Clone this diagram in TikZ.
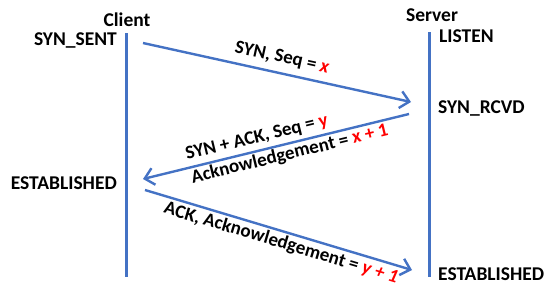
\documentclass[tikz,border=0pt]{standalone}
\usepackage{fontspec}
\setmainfont{Carlito}
\usetikzlibrary{arrows.meta}
\definecolor{lineblue}{HTML}{4472C4}
\definecolor{hlred}{HTML}{FF0000}
\tikzset{
  lifeline/.style={draw=lineblue, line width=2.6bp},
  msg/.style={draw=lineblue, line width=2.4bp, -{Straight Barb[length=9bp,width=17bp,line width=2.4bp]}},
  statelbl/.style={inner sep=0pt, font=\fontsize{19.5bp}{24bp}\selectfont\bfseries},
  msglbl/.style={inner sep=0pt, font=\fontsize{19bp}{24bp}\selectfont\bfseries},
}
\newcommand{\rd}[1]{\textcolor{hlred}{#1}}
\begin{document}
\begin{tikzpicture}[x=1bp,y=-1bp]
\useasboundingbox (0,0) rectangle (552,293);
% lifelines
\coordinate (ctop) at (126.5,33);
\coordinate (cbot) at (126.5,277);
\coordinate (stop) at (429.5,32);
\coordinate (sbot) at (429.5,277);
\draw[lifeline] (ctop) -- (cbot);
\draw[lifeline] (stop) -- (sbot);
% titles and states
\node[statelbl, anchor=base] (client) at (127,26) {Client};
\node[statelbl, anchor=base] (server) at (432,21.5) {Server};
\node[statelbl, anchor=base east] (synsent) at (117,45) {SYN\_SENT};
\node[statelbl, anchor=base west] (listen) at (439,42) {LISTEN};
\node[statelbl, anchor=base west] (synrcvd) at (438,113) {SYN\_RCVD};
\node[statelbl, anchor=base east] (estc) at (117,189) {ESTABLISHED};
\node[statelbl, anchor=base west] (ests) at (438,280) {ESTABLISHED};
% message endpoints
\coordinate (m1a) at (143,43);
\coordinate (m1b) at (411,102);
\coordinate (m2a) at (409,114);
\coordinate (m2b) at (143,179);
\coordinate (m3a) at (145,190);
\coordinate (m3b) at (412,270);
\draw[msg] (m1a) -- (m1b);
\draw[msg] (m2a) -- (m2b);
\draw[msg] (m3a) -- (m3b);
% message labels
\node[msglbl, rotate=-12.4] (l1) at (282,58) {SYN, Seq = \rd{\itshape x}};
\node[msglbl, rotate=13.7, align=left] (l2) at (287,143) {SYN + ACK, Seq = \rd{y}\\Acknowledgement = \rd{x + 1}};
\node[msglbl, rotate=-16.7] (l3) at (281,243) {ACK, Acknowledgement = \rd{\itshape y + 1}};
\end{tikzpicture}
\end{document}
